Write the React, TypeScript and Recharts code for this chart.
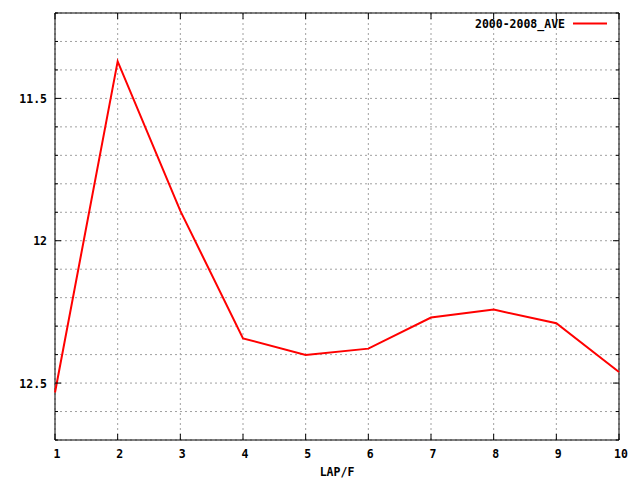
import { LineChart, Line, XAxis, YAxis, CartesianGrid, Legend, ReferenceArea } from 'recharts';

const laps = [1, 2, 3, 4, 5, 6, 7, 8, 9, 10];
const ave = [12.533, 11.37, 11.895, 12.343, 12.401, 12.379, 12.27, 12.242, 12.29, 12.461];
const yTicks = [11.2, 11.3, 11.4, 11.5, 11.6, 11.7, 11.8, 11.9, 12, 12.1, 12.2, 12.3, 12.4, 12.5, 12.6, 12.7];
const yLabels = [11.5, 12, 12.5];
const seriesName = '2000-2008_AVE';

const data = laps.map((lap, i) => ({ lap, ave: ave[i] }));

const FONT = '"DejaVu Sans Mono", monospace';
const PLOT_TOP = 13;
const PLOT_BOTTOM = 440;
const PLOT_LEFT = 55;
const PLOT_RIGHT = 619;

const YTick = (props: any) => {
  const { y, payload } = props;
  const v = payload.value;
  const major = yLabels.some((l) => Math.abs(l - v) < 1e-6);
  const len = major ? 6 : 3;
  return (
    <g>
      <line x1={PLOT_LEFT} x2={PLOT_LEFT + len} y1={y} y2={y} stroke="#000" />
      <line x1={PLOT_RIGHT - len} x2={PLOT_RIGHT} y1={y} y2={y} stroke="#000" />
      {major && (
        <text x={PLOT_LEFT - 8} y={y + 4.5} textAnchor="end" fontFamily={FONT} fontWeight="bold" fontSize={11.5} fill="#000">
          {String(v)}
        </text>
      )}
    </g>
  );
};

const XTick = (props: any) => {
  const { x, payload } = props;
  return (
    <g>
      <line x1={x} x2={x} y1={PLOT_BOTTOM} y2={PLOT_BOTTOM - 6} stroke="#000" />
      <line x1={x} x2={x} y1={PLOT_TOP} y2={PLOT_TOP + 6} stroke="#000" />
      <text x={x + 2} y={PLOT_BOTTOM + 18} textAnchor="middle" fontFamily={FONT} fontWeight="bold" fontSize={11.5} fill="#000">
        {String(payload.value)}
      </text>
    </g>
  );
};

const LegendBox = () => (
  <svg width={160} height={20} style={{ display: 'block' }}>
    <text x={115} y={14} textAnchor="end" fontFamily={FONT} fontWeight="bold" fontSize={11.5} fill="#000">
      {seriesName}
    </text>
    <line x1={123} x2={157} y1={9.5} y2={9.5} stroke="#ff0000" strokeWidth={2} />
  </svg>
);

export default function App() {
  return (
    <div style={{ position: 'absolute', left: 0, top: 0, width: 640, height: 480, background: '#fff' }}>
      <LineChart width={640} height={480} data={data} margin={{ top: PLOT_TOP, right: 640 - PLOT_RIGHT, bottom: 0, left: 0 }}>
        <CartesianGrid stroke="#a0a0a0" strokeDasharray="2 3" />
        <XAxis
          dataKey="lap"
          type="number"
          domain={[1, 10]}
          ticks={laps}
          interval={0}
          height={PLOT_BOTTOM === 440 ? 40 : 40}
          axisLine={false}
          tickLine={false}
          tickSize={0}
          tick={<XTick />}
          label={{ value: 'LAP/F', position: 'insideBottom', offset: 4, fontFamily: FONT, fontWeight: 'bold', fontSize: 11.5, fill: '#000' }}
        />
        <YAxis
          type="number"
          domain={[11.2, 12.7]}
          reversed
          ticks={yTicks}
          interval={0}
          width={PLOT_LEFT}
          axisLine={false}
          tickLine={false}
          tickSize={0}
          tick={<YTick />}
          allowDataOverflow
        />
        <ReferenceArea x1={1} x2={10} y1={11.2} y2={12.7} fill="none" stroke="#000" strokeWidth={1} fillOpacity={0} />
        <Legend
          verticalAlign="middle"
          align="center"
          layout="horizontal"
          content={<LegendBox />}
          wrapperStyle={{ top: 14, left: 450, width: 160 }}
        />
        <Line
          type="linear"
          dataKey="ave"
          name={seriesName}
          stroke="#ff0000"
          strokeWidth={2}
          dot={false}
          isAnimationActive={false}
        />
      </LineChart>
    </div>
  );
}
